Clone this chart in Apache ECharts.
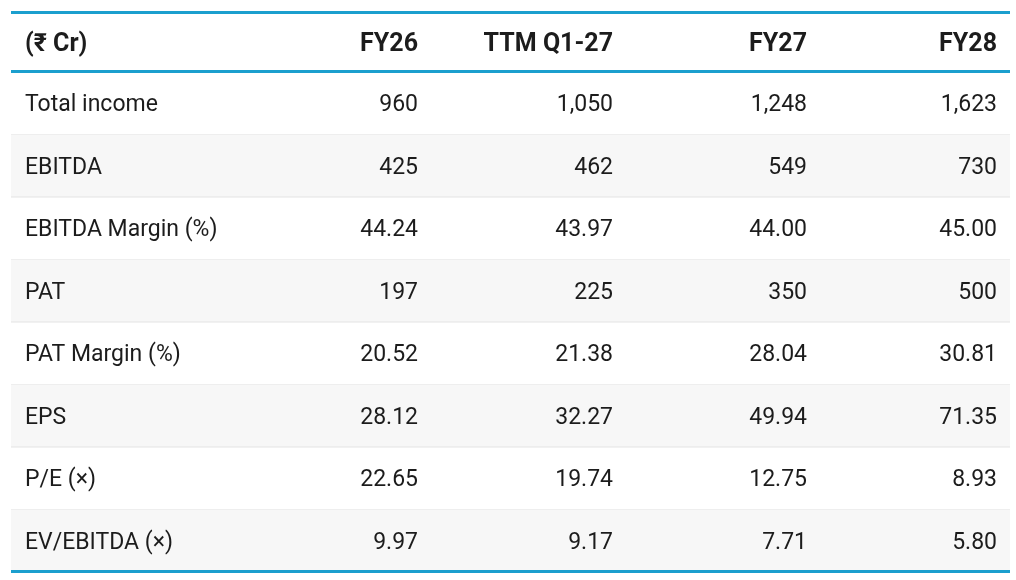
<!DOCTYPE html>
<html>
<head>
<meta charset="utf-8">
<script src="https://cdn.jsdelivr.net/npm/echarts@6/dist/echarts.min.js"></script>
<style>
  html, body { margin: 0; padding: 0; background: #fff; }
  #main { width: 1016px; height: 580px; }
</style>
</head>
<body>
<div id="main"></div>
<script>
// table content
const headers = ["(₹ Cr)", "FY26", "TTM Q1-27", "FY27", "FY28"];
const rowNames = ["Total income", "EBITDA", "EBITDA Margin (%)", "PAT", "PAT Margin (%)", "EPS", "P/E (×)", "EV/EBITDA (×)"];
const fy26 = ["960", "425", "44.24", "197", "20.52", "28.12", "22.65", "9.97"];
const ttmQ127 = ["1,050", "462", "43.97", "225", "21.38", "32.27", "19.74", "9.17"];
const fy27 = ["1,248", "549", "44.00", "350", "28.04", "49.94", "12.75", "7.71"];
const fy28 = ["1,623", "730", "45.00", "500", "30.81", "71.35", "8.93", "5.80"];

// layout: x positions on the value axis (0..999) where each column's text sits
const colX = [14, 407, 602, 796, 986];
const colAlign = ["left", "right", "right", "right", "right"];
const accent = "#1b9fce";
const textColor = "#1c1c1c";
const fontFamily = "Roboto, 'Noto Sans', 'DejaVu Sans', sans-serif";

const columns = [rowNames, fy26, ttmQ127, fy27, fy28];

function cellTexts(rowIdx, y, bold) {
    let out = [];
    for (let c = 0; c < columns.length; c++) {
        out.push({
            type: "text",
            style: {
                x: 0, y: 0,
                text: bold ? headers[c] : columns[c][rowIdx],
                fill: textColor,
                font: bold ? "bold 25px " + fontFamily : "23px " + fontFamily,
                align: colAlign[c],
                verticalAlign: "middle"
            },
            x: colX[c], y: y + 2,
            _col: c
        });
    }
    return out;
}

var myChart = echarts.init(document.getElementById("main"));

var option = {
    animation: false,
    grid: [
        { left: 11, right: 6, top: 14, height: 57 },
        { left: 11, right: 6, top: 72, bottom: 8 }
    ],
    xAxis: [
        { type: "value", gridIndex: 0, min: 0, max: 999, show: false },
        { type: "value", gridIndex: 1, min: 0, max: 999, show: false }
    ],
    yAxis: [
        { type: "category", gridIndex: 0, data: ["header"], show: false },
        { type: "category", gridIndex: 1, data: rowNames, inverse: true, show: false }
    ],
    series: [
        {
            type: "custom",
            xAxisIndex: 0, yAxisIndex: 0,
            data: [[0, 0]],
            renderItem: function (params, api) {
                const left = api.coord([0, 0]);
                const right = api.coord([999, 0]);
                const h = api.size([0, 1])[1];
                const yc = left[1];
                const x0 = left[0], w = right[0] - left[0];
                let children = [
                    { type: "rect", shape: { x: x0, y: yc - h / 2 - 3, width: w, height: 3 }, style: { fill: accent } },
                    { type: "rect", shape: { x: x0, y: yc + h / 2 - 1, width: w, height: 3 }, style: { fill: accent } }
                ];
                const texts = cellTexts(0, yc, true);
                texts.forEach(function (t) {
                    t.x = api.coord([colX[t._col], 0])[0];
                    delete t._col;
                    children.push(t);
                });
                return { type: "group", children: children };
            }
        },
        {
            type: "custom",
            xAxisIndex: 1, yAxisIndex: 1,
            data: rowNames.map(function (n, i) { return [0, i]; }),
            renderItem: function (params, api) {
                const i = api.value(1);
                const left = api.coord([0, i]);
                const right = api.coord([999, i]);
                const h = api.size([0, 1])[1];
                const yc = left[1];
                const x0 = left[0], w = right[0] - left[0];
                const last = i === rowNames.length - 1;
                let children = [];
                if (i % 2 === 1) {
                    children.push({ type: "rect", shape: { x: x0, y: yc - h / 2, width: w, height: h }, style: { fill: "#f7f7f7" } });
                }
                if (last) {
                    children.push({ type: "rect", shape: { x: x0, y: yc + h / 2 - 2, width: w, height: 3 }, style: { fill: accent } });
                } else {
                    children.push({ type: "rect", shape: { x: x0, y: yc + h / 2 - 0.5, width: w, height: 1 }, style: { fill: "#e4e4e4" } });
                }
                const texts = cellTexts(i, yc, false);
                texts.forEach(function (t) {
                    t.x = api.coord([colX[t._col], i])[0];
                    delete t._col;
                    children.push(t);
                });
                return { type: "group", children: children };
            }
        }
    ]
};
myChart.setOption(option);
</script>
</body>
</html>
